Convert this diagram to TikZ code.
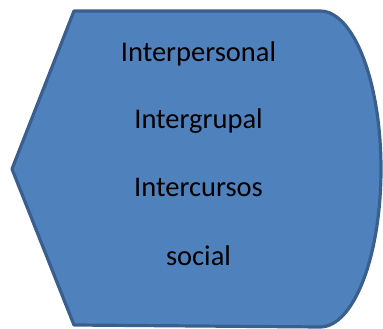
\documentclass[tikz,border=0pt]{standalone}
\usepackage{fontspec}
\setmainfont{Carlito}
\definecolor{fillblue}{HTML}{4F81BD}
\definecolor{edgeblue}{HTML}{3A5F8E}
\begin{document}
\begin{tikzpicture}[x=1pt,y=1pt,
  lbl/.style={font=\fontsize{28.5}{33}\selectfont, text=black, anchor=base}]
\useasboundingbox (0,0) rectangle (383,329);
\draw[line width=3.2pt, draw=edgeblue, fill=fillblue, line join=round]
  (12,160) -- (74,318) -- (320,318)
  arc[start angle=90, end angle=-90, x radius=61, y radius=158]
  -- (74,4) -- cycle;
\node[lbl] (t1) at (198.5,267) {Interpersonal};
\node[lbl] (t2) at (198.5,200) {Intergrupal};
\node[lbl] (t3) at (198.5,132) {Intercursos};
\node[lbl] (t4) at (198.5,63) {social};
\end{tikzpicture}
\end{document}
